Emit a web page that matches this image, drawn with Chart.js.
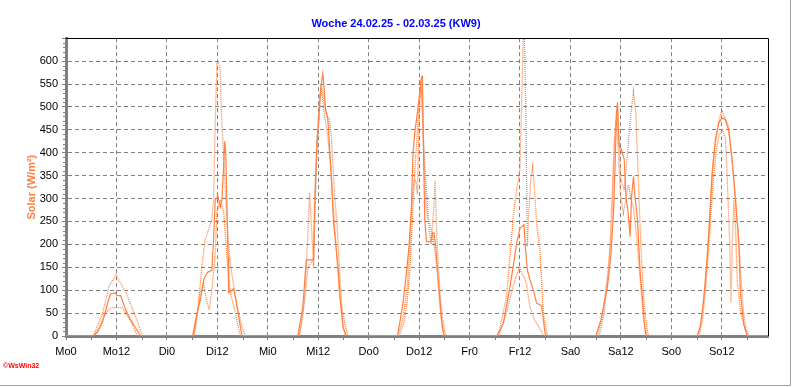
<!DOCTYPE html>
<html>
<head>
<meta charset="utf-8">
<script src="https://cdn.jsdelivr.net/npm/chart.js@4"></script>
<style>
  html, body { margin: 0; padding: 0; background: #fff; }
</style>
</head>
<body>
<canvas id="solarChart" width="792" height="387"></canvas>
<script>
// Day names for the x axis (hours counted from Monday 0:00)
const dayNames = ['Mo', 'Di', 'Mi', 'Do', 'Fr', 'Sa', 'So'];

// Solar (W/m²), per day: [hour of day, value] - solid line
const solarNow = [
  [[6.3,0],[7.5,8],[8.7,31],[9.9,72],[10.6,92],[11.8,94],[12.1,88],[13.0,88],[14.2,57],[15.4,35],[16.6,17],[17.8,0]],
  [[6.1,0],[7.15,50],[7.95,78],[8.75,122],[9.55,138],[10.7,144],[11.1,210],[11.5,297],[12.15,305],[12.7,281],[13.1,297],[13.5,370],[13.75,425],[14.0,400],[14.3,281],[14.55,173],[14.7,94],[15.9,103],[16.7,64],[17.5,19],[17.9,0]],
  [[7.15,0],[8.35,64],[9.15,166],[10.1,166],[10.9,166],[11.15,276],[11.7,422],[12.15,472],[12.5,531],[12.9,560],[13.1,573],[13.5,531],[13.75,494],[14.3,472],[15.1,348],[15.65,247],[16.7,152],[17.25,79],[17.9,20],[18.65,0]],
  [[6.85,0],[8.05,64],[8.8,122],[9.6,195],[10.15,276],[10.55,400],[11.05,450],[11.6,487],[12.15,531],[12.55,564],[12.8,567],[13.0,422],[13.35,254],[13.75,206],[14.8,206],[15.2,225],[15.55,225],[15.95,195],[16.5,130],[17.15,57],[17.55,20],[17.95,0]],
  [[6.45,0],[8.05,28],[9.2,86],[10.4,152],[11.2,203],[12.0,235],[12.95,243],[13.35,185],[13.75,144],[14.4,122],[15.2,100],[15.95,72],[17.15,66],[17.55,37],[17.95,7],[18.35,0]],
  [[6.05,0],[7.25,35],[8.8,108],[9.6,173],[10.25,268],[10.65,378],[10.95,487],[11.2,510],[11.6,414],[12.15,407],[12.8,385],[13.2,305],[13.75,268],[14.2,217],[14.55,305],[15.0,348],[15.35,305],[15.95,254],[16.6,137],[17.15,79],[17.55,28],[17.95,0]],
  [[6.1,0],[6.9,20],[7.7,79],[8.5,166],[9.15,261],[9.7,356],[10.5,429],[11.3,465],[12.1,476],[12.85,472],[13.65,450],[14.45,385],[15.25,297],[16.05,203],[16.45,93],[17.25,24],[18.05,0]]
];

// Dotted line A
const solarDotA = [
  [[6.5,0],[8.7,50],[10.3,110],[11.9,133],[14.2,96],[16.6,42],[18.2,0]],
  [[6.4,0],[7.4,60],[8.3,150],[9.1,210],[10.2,240],[10.7,254],[11.1,297],[11.5,465],[11.9,600],[12.2,596],[12.7,582],[12.9,500],[13.5,392],[13.9,319],[14.3,246],[14.7,195],[15.4,138],[16.7,64],[17.9,19],[18.7,0]],
  [[7.55,0],[8.75,80],[9.55,220],[9.95,312],[10.3,254],[10.9,152],[11.15,300],[11.7,430],[12.15,500],[12.7,547],[13.1,531],[13.9,487],[14.7,472],[15.1,437],[15.9,306],[16.45,248],[17.1,138],[17.7,58],[18.3,29],[19.05,0]],
  [[7.0,0],[8.2,40],[9.2,110],[9.8,200],[10.3,290],[10.8,340],[11.2,340],[11.6,310],[11.9,450],[12.4,556],[12.8,480],[13.2,380],[13.6,290],[14.0,260],[14.5,250],[15.0,220],[15.5,280],[15.8,340],[16.2,220],[16.6,150],[17.2,64],[18.0,13],[18.5,0]],
  [[6.85,0],[8.8,86],[10.4,261],[11.2,319],[12.0,363],[12.25,465],[12.65,596],[12.9,700],[13.2,596],[13.45,450],[13.75,195],[14.05,261],[14.55,341],[15.0,370],[15.4,327],[15.95,246],[16.75,188],[17.55,50],[18.35,6],[18.75,0]],
  [[6.85,0],[8.05,50],[9.2,152],[10.4,414],[11.05,494],[11.6,414],[12.0,341],[12.8,319],[13.6,400],[14.4,487],[15.0,534],[15.55,487],[16.15,341],[16.75,195],[17.55,64],[18.35,6],[18.75,0]],
  [[6.5,0],[7.3,45],[8.1,120],[8.9,220],[9.5,320],[10.1,390],[10.9,450],[11.7,485],[12.1,490],[12.6,480],[13.5,460],[14.3,400],[15.1,320],[15.9,230],[16.5,140],[17.1,60],[17.7,20],[18.4,0]]
];

// Dotted line B
const solarDotB = [
  [[6.7,0],[8.2,25],[9.5,52],[11.0,62],[13.4,62],[15.4,32],[17.0,0]],
  [[6.5,0],[7.95,94],[8.75,116],[9.55,72],[10.1,58],[10.7,102],[11.1,138],[11.5,180],[11.9,270],[12.7,297],[13.5,270],[14.3,173],[15.1,94],[16.3,50],[17.1,15],[17.5,0]],
  [[7.4,0],[8.3,40],[9.0,100],[9.6,150],[10.3,160],[10.9,170],[11.2,260],[11.7,400],[12.2,480],[12.6,540],[13.0,520],[13.5,480],[14.2,440],[15.0,370],[15.6,280],[16.3,190],[16.9,110],[17.5,50],[18.0,15],[18.6,0]],
  [[7.3,0],[8.4,30],[9.2,80],[9.9,160],[10.4,260],[10.9,350],[11.4,420],[11.9,500],[12.4,545],[12.8,510],[13.1,420],[13.5,350],[13.9,300],[14.4,230],[14.9,200],[15.3,215],[15.7,190],[16.3,140],[16.9,70],[17.4,25],[17.9,0]],
  [[6.9,0],[8.8,50],[10.4,110],[11.9,152],[12.3,140],[13.4,120],[14.4,62],[15.6,33],[16.8,15],[17.6,0]],
  [[6.4,0],[7.6,40],[8.8,130],[9.8,230],[10.5,430],[10.9,472],[11.4,400],[11.9,305],[12.6,268],[13.2,300],[13.8,330],[14.4,300],[15.0,280],[15.6,230],[16.2,170],[16.8,100],[17.4,40],[18.0,5],[18.3,0]],
  [[6.6,0],[7.5,40],[8.3,120],[9.1,220],[9.8,320],[10.6,400],[11.4,440],[12.2,450],[12.9,430],[13.5,297],[13.9,203],[14.2,72],[14.5,203],[14.9,297],[15.3,230],[15.7,120],[16.4,58],[17.6,15],[18.4,0]]
];

const xMax = 167;   // last hour shown (So 23)
const yMax = 650;
const orange = '#ff8040';
const gridGray = '#808080';

// turn per-day [hour, value] lists into week points
function toPoints(days) {
  const pts = [{ x: 0, y: 0 }];
  days.forEach((day, d) => {
    day.forEach(([h, v]) => pts.push({ x: d * 24 + h, y: v }));
  });
  pts.push({ x: xMax, y: 0 });
  return pts;
}

// extra drawing: frame, minor ticks, copyright
const framePlugin = {
  id: 'frame',
  beforeDraw(chart) {
    const c = chart.ctx;
    c.save();
    c.fillStyle = '#fff';
    c.fillRect(0, 0, chart.width, chart.height);
    c.restore();
  },
  afterDraw(chart) {
    const c = chart.ctx;
    const a = chart.chartArea;
    const xs = chart.scales.x, ys = chart.scales.y;
    c.save();
    // black top and right border
    c.strokeStyle = '#000';
    c.lineWidth = 1;
    c.beginPath();
    c.moveTo(a.left, Math.round(a.top) + 0.5);
    c.lineTo(Math.round(a.right) + 0.5, Math.round(a.top) + 0.5);
    c.lineTo(Math.round(a.right) + 0.5, a.bottom);
    c.stroke();
    // minor ticks
    c.strokeStyle = gridGray;
    c.beginPath();
    for (let h = 6; h < xMax; h += 12) {
      const px = Math.round(xs.getPixelForValue(h)) + 0.5;
      c.moveTo(px, a.bottom);
      c.lineTo(px, a.bottom + 4);
    }
    for (let v = 10; v < yMax; v += 10) {
      if (v % 50 === 0) continue;
      const py = Math.round(ys.getPixelForValue(v)) + 0.5;
      c.moveTo(a.left - 3, py);
      c.lineTo(a.left, py);
    }
    c.stroke();
    // window frame
    c.strokeStyle = '#a0a0a0';
    c.beginPath();
    c.moveTo(790.5, 0);
    c.lineTo(790.5, 385.5);
    c.lineTo(0, 385.5);
    c.stroke();
    // copyright
    c.fillStyle = '#ff0000';
    c.font = 'bold 7px "Liberation Sans"';
    c.textBaseline = 'middle';
    c.fillText('\u00a9WsWin32', 3, 366);
    c.restore();
  }
};

const ctx = document.getElementById('solarChart').getContext('2d');
new Chart(ctx, {
  type: 'line',
  data: {
    datasets: [
      {
        label: 'Solar B',
        data: toPoints(solarDotB),
        borderColor: orange,
        borderWidth: 1.3,
        borderDash: [1, 1],
        pointRadius: 0,
        tension: 0
      },
      {
        label: 'Solar A',
        data: toPoints(solarDotA),
        borderColor: orange,
        borderWidth: 1.3,
        borderDash: [1, 1],
        pointRadius: 0,
        tension: 0
      },
      {
        label: 'Solar',
        data: toPoints(solarNow),
        borderColor: orange,
        borderWidth: 1.2,
        pointRadius: 0,
        tension: 0
      }
    ]
  },
  options: {
    responsive: false,
    animation: false,
    layout: { padding: { left: 24, right: 24, top: 0, bottom: 0 } },
    plugins: {
      legend: { display: false },
      tooltip: { enabled: false },
      title: {
        display: true,
        text: 'Woche 24.02.25 - 02.03.25 (KW9)',
        color: '#0000ff',
        font: { family: 'Liberation Sans', size: 11, weight: 'bold' },
        padding: { top: 17, bottom: 8 }
      }
    },
    scales: {
      x: {
        type: 'linear',
        min: 0,
        max: xMax,
        afterFit: (scale) => { scale.height = 51; },
        ticks: {
          stepSize: 12,
          includeBounds: false,
          autoSkip: false,
          maxRotation: 0,
          padding: 5,
          color: '#000',
          font: { family: 'Liberation Sans', size: 11 },
          callback: (v) => dayNames[Math.floor(v / 24)] + (v % 24)
        },
        grid: { color: gridGray, tickColor: gridGray, tickLength: 4, lineWidth: 1 },
        border: { color: gridGray, width: 3, dash: [4, 3] }
      },
      y: {
        min: 0,
        max: yMax,
        afterFit: (scale) => { scale.width = 42; },
        ticks: {
          stepSize: 50,
          padding: 4,
          color: '#000',
          font: { family: 'Liberation Sans', size: 11 },
          callback: (v) => (v === yMax ? '' : v)
        },
        grid: { color: gridGray, tickColor: gridGray, tickLength: 4, lineWidth: 1 },
        border: { color: gridGray, width: 3, dash: [4, 3] },
        title: {
          display: true,
          text: 'Solar (W/m\u00b2)',
          color: orange,
          font: { family: 'Liberation Sans', size: 11, weight: 'bold' },
          padding: { top: 1, bottom: 0 }
        }
      }
    }
  },
  plugins: [framePlugin]
});
</script>
</body>
</html>
